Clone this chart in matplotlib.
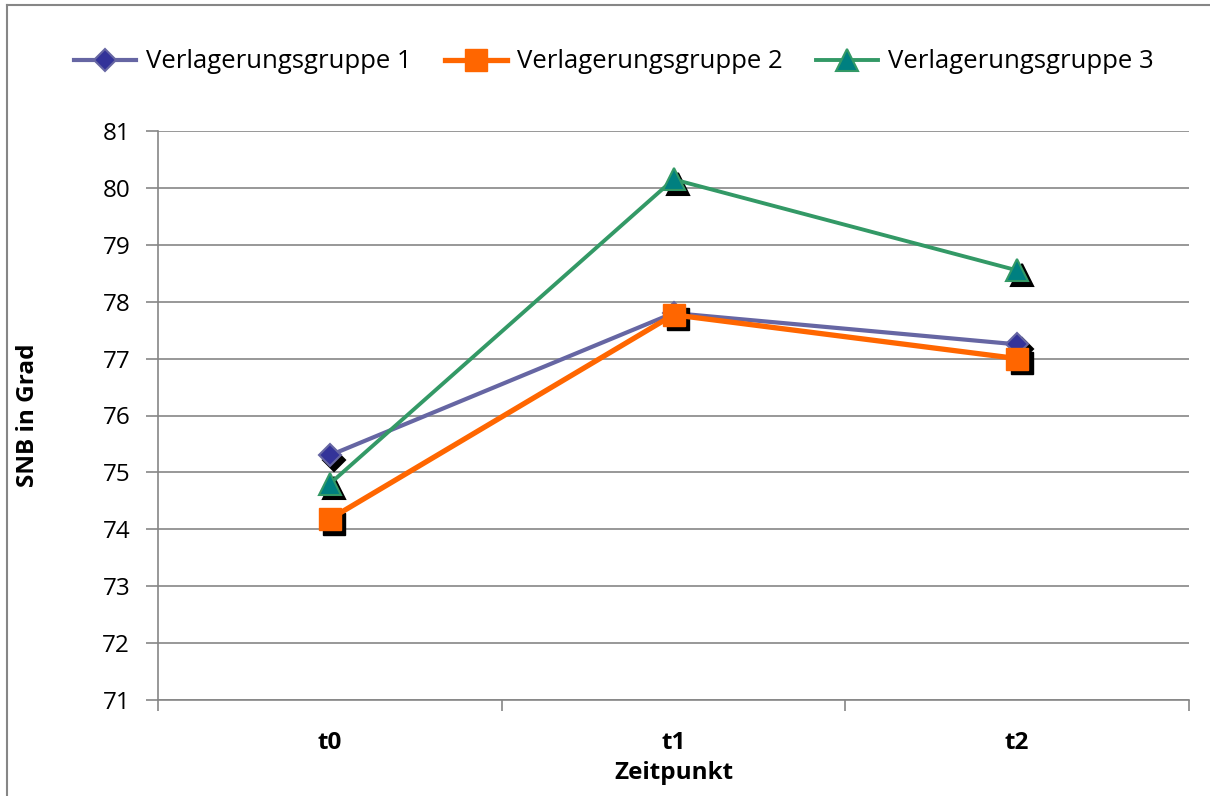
import matplotlib
matplotlib.use("Agg")
import matplotlib.pyplot as plt
import matplotlib.transforms as mtransforms
from matplotlib.lines import Line2D

categories = ["t0", "t1", "t2"]
group1 = [75.30, 77.80, 77.25]
group2 = [74.18, 77.77, 77.00]
group3 = [74.80, 80.15, 78.55]
series_names = ["Verlagerungsgruppe 1", "Verlagerungsgruppe 2", "Verlagerungsgruppe 3"]
y_ticks = list(range(71, 82))

plt.rcParams['font.family'] = ['Open Sans', 'DejaVu Sans']

fig = plt.figure(figsize=(12.10, 7.96), dpi=100)
ax = fig.add_axes([158/1210, 1-700/796, 1031/1210, 569/796])

x = list(range(len(categories)))

styles = [
    dict(data=group1, color="#6666A3", lw=3.0, marker="D", ms=11.5, mfc="#333399", mec="#6666A3", mew=1.5),
    dict(data=group2, color="#FF6600", lw=3.8, marker="s", ms=15.5, mfc="#FF6600", mec="#FF6600", mew=1.0),
    dict(data=group3, color="#339966", lw=2.8, marker="^", ms=15.5, mfc="#008080", mec="#339966", mew=1.5),
]

shadow = mtransforms.offset_copy(ax.transData, fig=fig, x=4.5, y=-4.5, units='dots')

handles = []
for i, (st, name) in enumerate(zip(styles, series_names)):
    z = 3 + i
    ax.plot(x, st["data"], linestyle="none", marker=st["marker"], ms=st["ms"],
            mfc="black", mec="black", mew=st["mew"], transform=shadow, zorder=z, clip_on=False)
    ax.plot(x, st["data"], color=st["color"], lw=st["lw"], zorder=z + 0.1, clip_on=False)
    ax.plot(x, st["data"], linestyle="none", marker=st["marker"], ms=st["ms"],
            mfc=st["mfc"], mec=st["mec"], mew=st["mew"], zorder=z + 0.2, clip_on=False)
    handles.append(Line2D([], [], color=st["color"], lw=st["lw"], marker=st["marker"],
                          ms=st["ms"], mfc=st["mfc"], mec=st["mec"], mew=st["mew"]))

ax.set_xlim(-0.5, 2.5)
ax.set_ylim(71, 81)
ax.set_yticks(y_ticks)
ax.set_yticklabels([str(v) for v in y_ticks], fontsize=17.5)
ax.set_xticks(x)
ax.set_xticklabels(categories, fontsize=17.5, fontweight="bold")
ax.set_xticks([-0.5, 0.5, 1.5, 2.5], minor=True)
ax.tick_params(axis="x", which="major", length=0, pad=22)
ax.tick_params(axis="x", which="minor", length=8, color="#868686", width=1.2)
ax.tick_params(axis="y", which="major", length=9, color="#868686", width=1.2, pad=11)

ax.grid(axis="y", color="#868686", lw=1.2)
ax.set_axisbelow(True)
for s in ["top", "right"]:
    ax.spines[s].set_visible(False)
for s in ["left", "bottom"]:
    ax.spines[s].set_color("#868686")
    ax.spines[s].set_linewidth(1.2)

ax.set_ylabel("SNB in Grad", fontsize=17.5, fontweight="bold")
ax.yaxis.set_label_coords(-0.114, 0.5)
ax.set_xlabel("Zeitpunkt", fontsize=17.5, fontweight="bold")
ax.xaxis.set_label_coords(0.5, -0.108)

fig.legend(handles, series_names, loc="center", bbox_to_anchor=(614/1210, 1-62/796),
           ncol=3, frameon=False, fontsize=18.5, handlelength=2.4, handletextpad=0.4,
           columnspacing=1.3)

# chart area border (top and left visible)
fig.add_artist(Line2D([7/1210, 7/1210], [0, 1-5/796], transform=fig.transFigure, color="#868686", lw=1.5))
fig.add_artist(Line2D([7/1210, 1], [1-5/796, 1-5/796], transform=fig.transFigure, color="#868686", lw=1.5))

fig.savefig("out.png", dpi=100)
